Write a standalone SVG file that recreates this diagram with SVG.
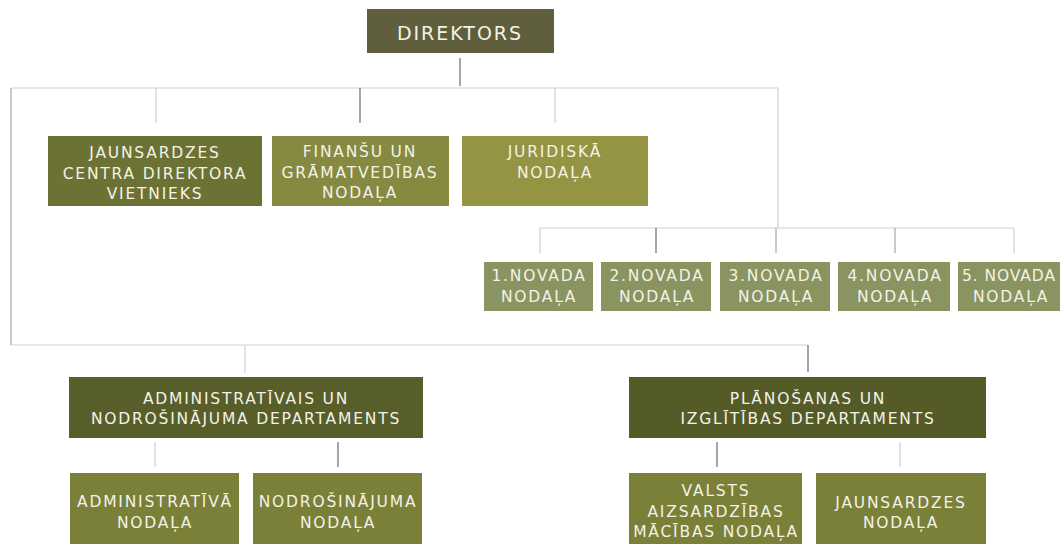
<svg xmlns="http://www.w3.org/2000/svg" width="1060" height="544" viewBox="0 0 1060 544">
<style>
text{font-family:"DejaVu Sans","Liberation Sans",sans-serif;font-size:15.5px;fill:#f4f2e8;text-anchor:middle;letter-spacing:1.8px}
.l{stroke:#cfcfcf;stroke-width:1.2;fill:none}
.d{stroke:#6a6a6a;stroke-width:1.2;fill:none}
.m{stroke:#a8a8a8;stroke-width:1.2;fill:none}
</style>
<rect width="1060" height="544" fill="#ffffff"/>
<g id="connectors">
<line class="d" x1="460" y1="58" x2="460" y2="86"/>
<line class="l" x1="11" y1="88" x2="778" y2="88"/>
<line class="m" x1="11" y1="88" x2="11" y2="345"/>
<line class="l" x1="156" y1="88" x2="156" y2="123"/>
<line class="d" x1="360" y1="88" x2="360" y2="123"/>
<line class="l" x1="555" y1="88" x2="555" y2="123"/>
<line class="l" x1="778" y1="88" x2="778" y2="228"/>
<line class="l" x1="540" y1="228" x2="1014" y2="228"/>
<line class="l" x1="540" y1="228" x2="540" y2="253"/>
<line class="d" x1="656" y1="228" x2="656" y2="253"/>
<line class="m" x1="776" y1="228" x2="776" y2="253"/>
<line class="m" x1="895" y1="228" x2="895" y2="253"/>
<line class="l" x1="1014" y1="228" x2="1014" y2="253"/>
<line class="l" x1="11" y1="345" x2="808" y2="345"/>
<line class="l" x1="245" y1="345" x2="245" y2="373"/>
<line class="d" x1="808" y1="345" x2="808" y2="372"/>
<line class="l" x1="155" y1="442" x2="155" y2="467"/>
<line class="d" x1="338" y1="442" x2="338" y2="467"/>
<line class="d" x1="717" y1="442" x2="717" y2="467"/>
<line class="l" x1="900" y1="442" x2="900" y2="467"/>
</g>
<g id="direktors">
<rect x="367" y="9" width="187" height="44" fill="#5f5f3d"/>
<text x="460" y="40" style="font-size:19px;letter-spacing:2px">DIREKTORS</text>
</g>
<g id="vietnieks">
<rect x="48" y="136" width="214" height="70" fill="#6b7233"/>
<text x="155" y="158">JAUNSARDZES</text>
<text x="155" y="179">CENTRA DIREKTORA</text>
<text x="155" y="199">VIETNIEKS</text>
</g>
<g id="finansu">
<rect x="272" y="136" width="177" height="70" fill="#868a40"/>
<text x="360" y="157">FINANŠU UN</text>
<text x="360" y="178">GRĀMATVEDĪBAS</text>
<text x="360" y="198">NODAĻA</text>
</g>
<g id="juridiska">
<rect x="462" y="136" width="186" height="70" fill="#959443"/>
<text x="555" y="157">JURIDISKĀ</text>
<text x="555" y="178">NODAĻA</text>
</g>
<g id="novada1">
<rect x="484" y="262" width="109" height="49" fill="#8a9460"/>
<text x="539" y="281">1.NOVADA</text>
<text x="539" y="302">NODAĻA</text>
</g>
<g id="novada2">
<rect x="601" y="262" width="110" height="49" fill="#8a9460"/>
<text x="657" y="281">2.NOVADA</text>
<text x="657" y="302">NODAĻA</text>
</g>
<g id="novada3">
<rect x="720" y="262" width="110" height="49" fill="#8a9460"/>
<text x="776" y="281">3.NOVADA</text>
<text x="776" y="302">NODAĻA</text>
</g>
<g id="novada4">
<rect x="838" y="262" width="112" height="49" fill="#8a9460"/>
<text x="895" y="281">4.NOVADA</text>
<text x="895" y="302">NODAĻA</text>
</g>
<g id="novada5">
<rect x="958" y="262" width="102" height="49" fill="#8a9460"/>
<text x="1009" y="281" style="letter-spacing:0.9px">5. NOVADA</text>
<text x="1011" y="302">NODAĻA</text>
</g>
<g id="admin-dept">
<rect x="69" y="377" width="354" height="61" fill="#575e29"/>
<text x="246" y="404">ADMINISTRATĪVAIS UN</text>
<text x="246" y="424">NODROŠINĀJUMA DEPARTAMENTS</text>
</g>
<g id="planosanas-dept">
<rect x="629" y="377" width="357" height="61" fill="#555b27"/>
<text x="808" y="404">PLĀNOŠANAS UN</text>
<text x="808" y="424">IZGLĪTĪBAS DEPARTAMENTS</text>
</g>
<g id="admin-nodala">
<rect x="70" y="473" width="169" height="71" fill="#7a8038"/>
<text x="155" y="507">ADMINISTRATĪVĀ</text>
<text x="155" y="528">NODAĻA</text>
</g>
<g id="nodrosinajuma-nodala">
<rect x="253" y="473" width="169" height="71" fill="#7a8038"/>
<text x="338" y="507">NODROŠINĀJUMA</text>
<text x="338" y="528">NODAĻA</text>
</g>
<g id="valsts-nodala">
<rect x="629" y="473" width="173" height="71" fill="#7a8038"/>
<text x="716" y="496">VALSTS</text>
<text x="716" y="517">AIZSARDZĪBAS</text>
<text x="716" y="537">MĀCĪBAS NODAĻA</text>
</g>
<g id="jaunsardzes-nodala">
<rect x="816" y="473" width="170" height="71" fill="#7a8038"/>
<text x="901" y="508">JAUNSARDZES</text>
<text x="901" y="528">NODAĻA</text>
</g>
</svg>
